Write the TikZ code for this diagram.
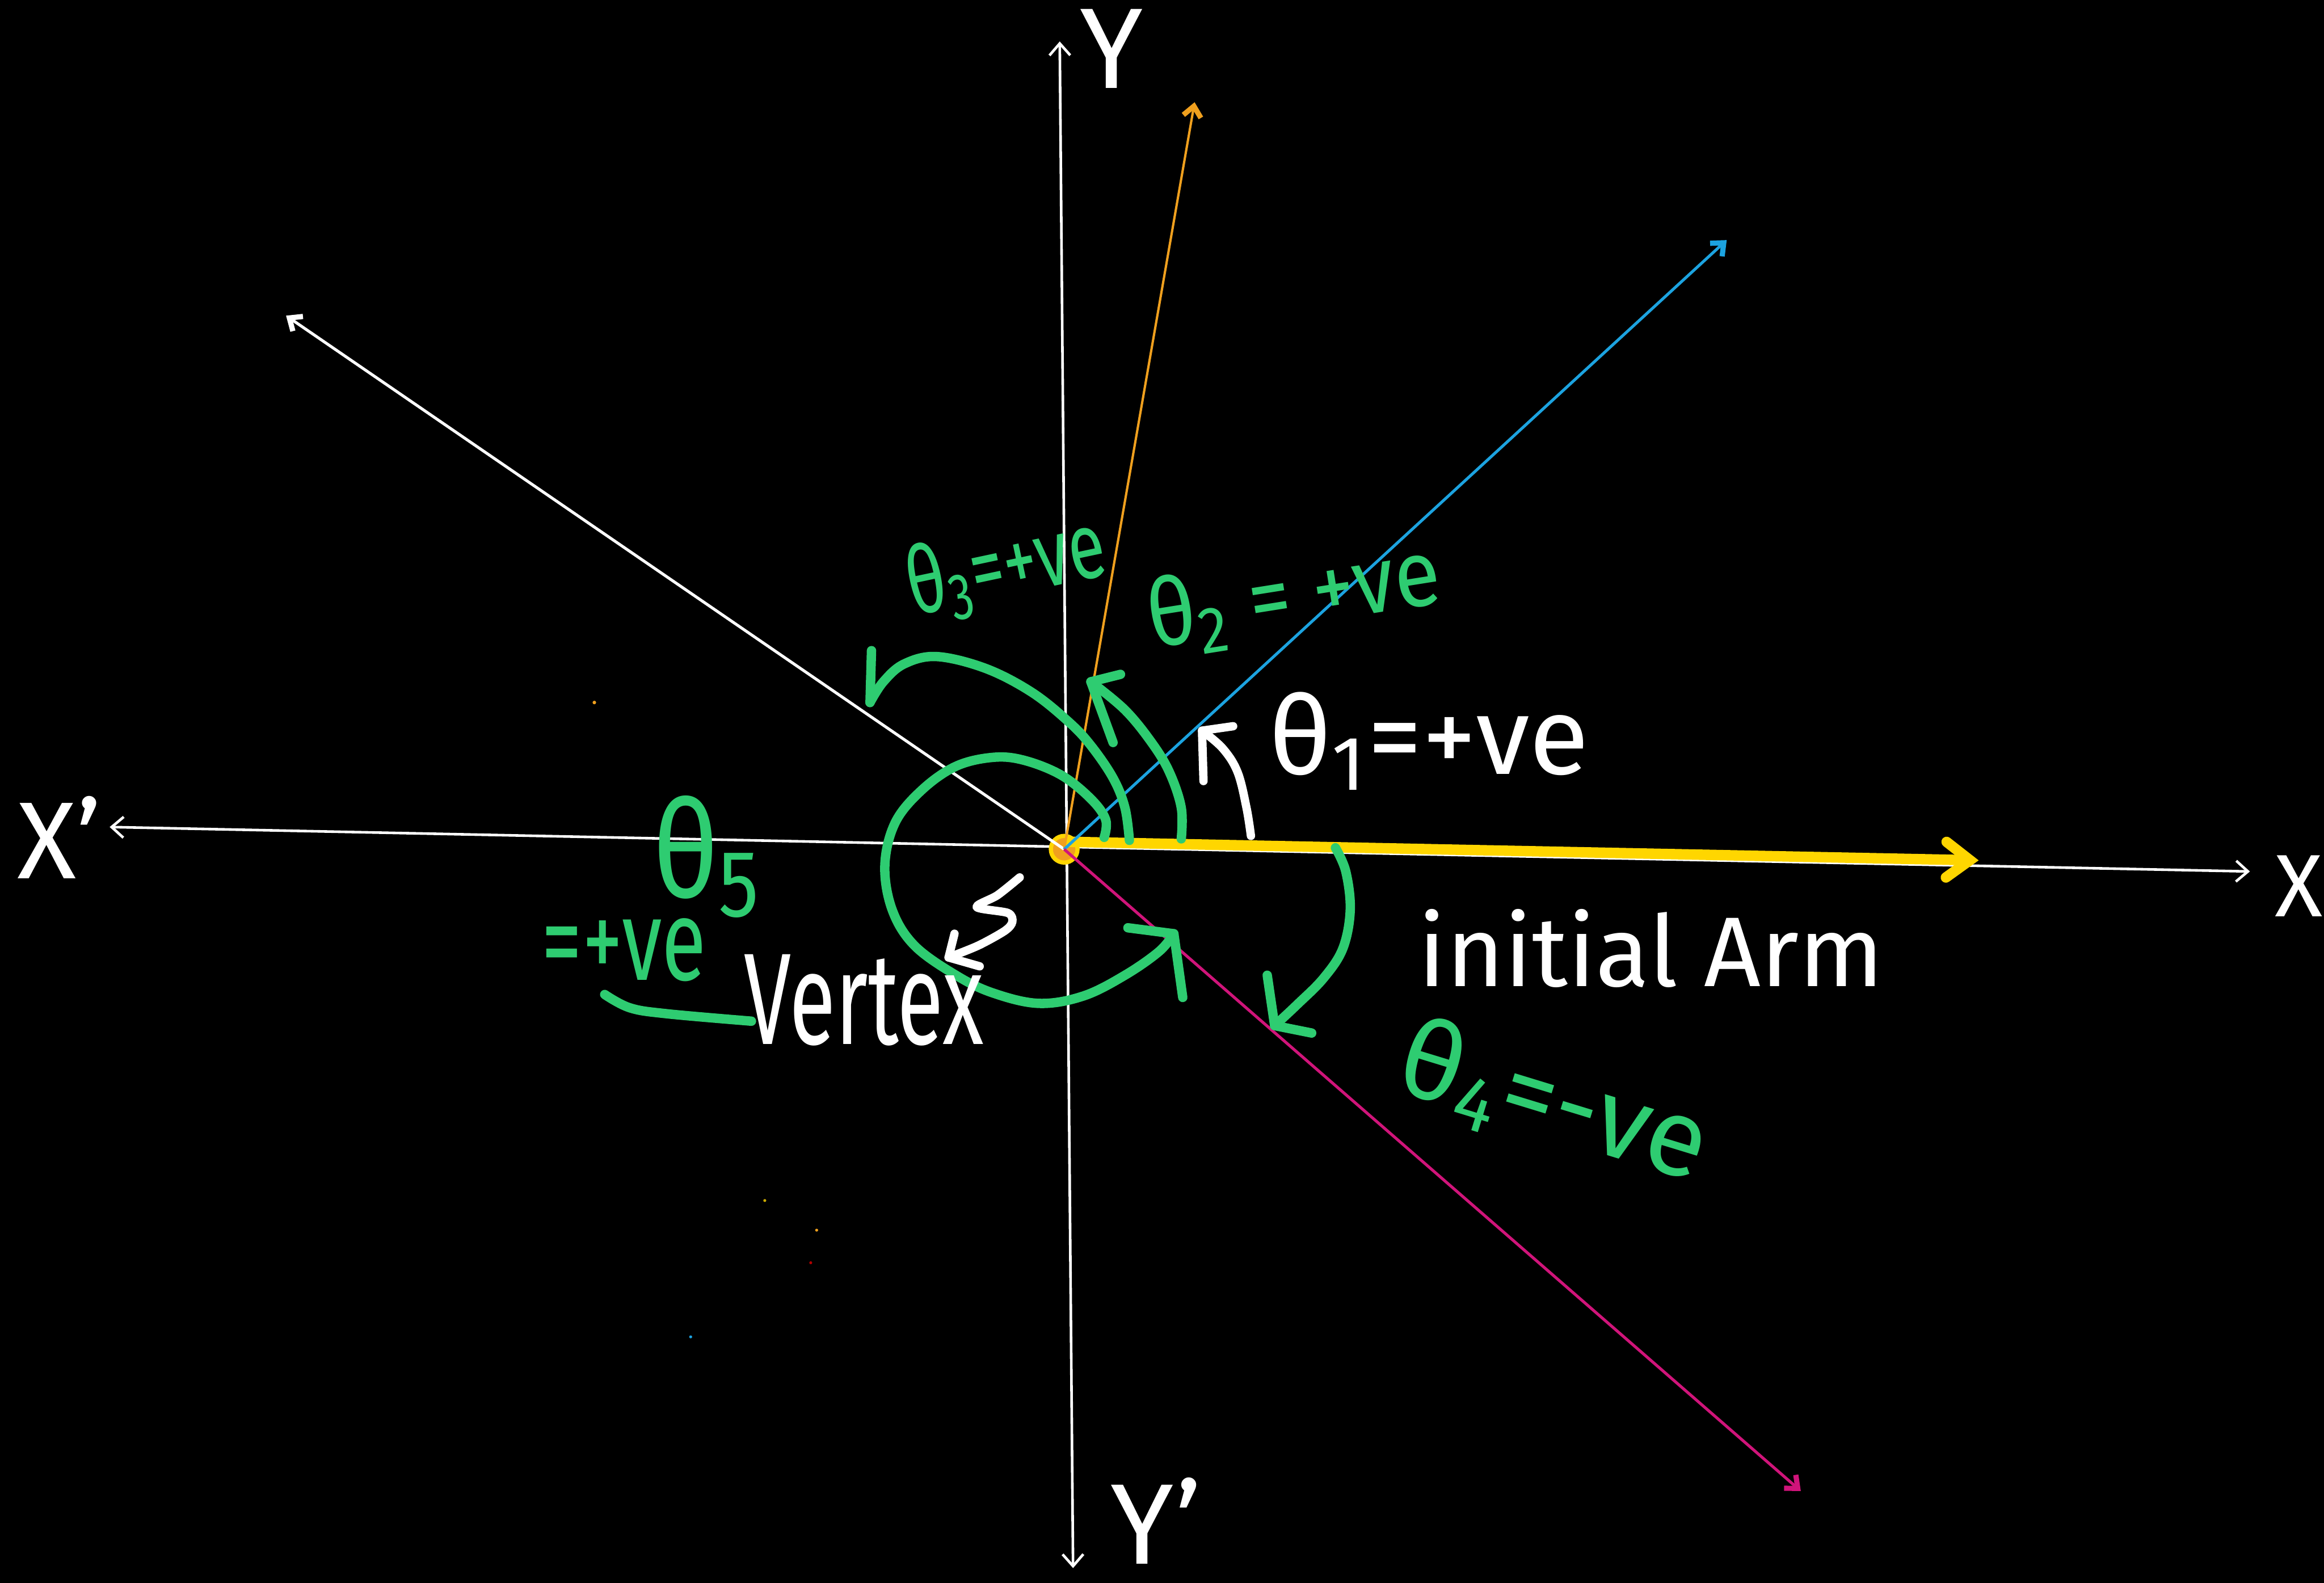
\documentclass[tikz,border=0pt]{standalone}
\usepackage{fontspec}
\setmainfont{Fira Sans}
\usepackage{graphicx}
\usetikzlibrary{arrows.meta}

\definecolor{chalkgreen}{RGB}{46,204,113}
\definecolor{rayorange}{RGB}{240,160,30}
\definecolor{rayblue}{RGB}{28,163,224}
\definecolor{raymagenta}{RGB}{208,20,122}
\definecolor{armyellow}{RGB}{255,214,0}

\newcommand{\squeeze}[2]{\scalebox{#1}[1]{#2}}
\newcommand{\fsz}[1]{\fontsize{#1}{#1}\selectfont}

\begin{document}
\begin{tikzpicture}[x=0.01cm, y=-0.01cm,
  axis/.style={white, line width=0.5pt, {Straight Barb[length=0.8mm,width=1.4mm]}-{Straight Barb[length=0.8mm,width=1.4mm]}},
  ray/.style={line width=0.55pt, -{Straight Barb[length=0.7mm,width=1.2mm,line width=1pt]}},
  greenarc/.style={chalkgreen, line width=1.8pt, line cap=round, line join=round},
  whitearc/.style={white, line width=1.6pt, line cap=round, line join=round},
  lbl/.style={white, inner sep=0pt},
  glbl/.style={chalkgreen, inner sep=0pt}]

% black board
\fill[black] (0,0) rectangle (1568,1068);
\useasboundingbox (0,0) rectangle (1568,1068);

% points
\coordinate (O) at (718,573);
\coordinate (Xtip) at (1518,588);
\coordinate (Xptip) at (74,558);
\coordinate (Ytip) at (715,28);
\coordinate (Yptip) at (724,1058);
\coordinate (orangetip) at (806,69);
\coordinate (bluetip) at (1165,162);
\coordinate (whitetip) at (193,213);
\coordinate (magtip) at (1215,1006);
\coordinate (armstart) at (722,568);
\coordinate (armtip) at (1335,580.5);

% axes
\draw[axis] (Xptip) -- (Xtip);
\draw[axis] (Yptip) -- (Ytip);

% vertex
\filldraw[fill=rayorange, draw=armyellow, line width=0.8pt] (O) circle[radius=0.9mm];

% initial arm and the other arms
\draw[armyellow, line width=2pt, line cap=round, -{Straight Barb[length=1.6mm,width=2.4mm,line cap=round]}] (armstart) -- (armtip);
\draw[ray, white] (O) -- (whitetip);
\draw[ray, rayorange, line width=0.45pt] (O) -- (orangetip);
\draw[ray, rayblue] (O) -- (bluetip);
\draw[ray, raymagenta] (O) -- (magtip);

% specks
\fill[rayorange] (401,474) circle[radius=0.12mm];
\fill[armyellow!80!black] (516,810) circle[radius=0.1mm];
\fill[rayorange] (551,830) circle[radius=0.1mm];
\fill[red!70!black] (547,852) circle[radius=0.1mm];
\fill[rayblue] (466,902) circle[radius=0.1mm];

% green angle arcs
\draw[greenarc] plot[smooth, tension=0.6] coordinates {(745,565) (746,553) (736,539) (716,523) (691,513) (670,511) (645,517) (622,533) (604,555) (597,584) (602,614) (617,638) (645,658) (670,670) (701,677) (731,672) (759,658) (782,642) (792,630)};
\draw[greenarc] (761,626) -- (792,630) -- (798,673);
\draw[greenarc] plot[smooth, tension=0.6] coordinates {(762,567) (759,545) (751,525) (736,503) (721,487) (696,467) (665,451) (632,443) (610,448) (596,460) (587,474)};
\draw[greenarc] (587,474) -- (588,439);
\draw[greenarc] plot[smooth, tension=0.6] coordinates {(797,566) (797,545) (789,521) (777,501) (759,479) (736,460)};
\draw[greenarc] (756,455) -- (736,460) -- (751,501);
\draw[greenarc] plot[smooth, tension=0.6] coordinates {(901,572) (908,588) (911,614) (906,640) (893,660) (875,678) (860,692)};
\draw[greenarc] (855,658) -- (860,692) -- (885,697);
\draw[greenarc] plot[smooth, tension=0.6] coordinates {(408,671) (425,680) (450,684) (507,689)};

% white arrows
\draw[whitearc] plot[smooth, tension=0.6] coordinates {(844,564) (841,545) (835,521) (825,505) (811,493)};
\draw[whitearc] (812,527) -- (811,493) -- (832,490);
\draw[whitearc] plot[smooth, tension=0.5] coordinates {(688,592) (673,604) (659,612) (680,616) (683,622) (678,628) (660,638) (640,646)};
\draw[whitearc] (644,630) -- (640,646) -- (661,652);

% labels
\node[lbl, font=\fsz{21}] (nXp) at (40,565) {X'};
\node[lbl, font=\fsz{17}, anchor=west] (nX) at (1534,598) {X};
\node[lbl, font=\fsz{22}] (nY) at (750,33) {Y};
\node[lbl, font=\fsz{22}] (nYp) at (780,1026) {Y'};
\node[lbl, font=\fsz{21}] (theta1) at (964,500) {θ\textsubscript{1}=+ve};
\node[glbl, font=\fsz{18}, rotate=9] (theta2) at (873,403) {\squeeze{0.9}{θ\textsubscript{2} = +ve}};
\node[glbl, font=\fsz{18}, rotate=12] (theta3) at (679,383) {\squeeze{0.72}{θ\textsubscript{3}=+ve}};
\node[glbl, font=\fsz{21}, rotate=-17] (theta4) at (1048,745) {θ\textsubscript{4}=-ve};
\node[glbl, font=\fsz{26}] (theta5) at (477,578) {\squeeze{0.85}{θ\textsubscript{5}}};
\node[glbl, font=\fsz{22}] (theta5v) at (421,641) {\squeeze{0.71}{=+ve}};
\node[lbl, font=\fsz{25}] (vertex) at (583,675) {\squeeze{0.65}{Vertex}};
\node[lbl, font=\fsz{19}] (initarm) at (1114,640) {initial Arm};
\end{tikzpicture}
\end{document}
